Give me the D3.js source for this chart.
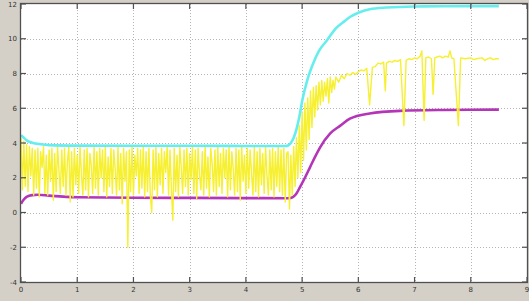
<!DOCTYPE html>
<html><head><meta charset="utf-8">
<script src="https://cdn.jsdelivr.net/npm/d3@7"></script>
<style>html,body{margin:0;padding:0;background:#d4d0c8;}svg{display:block;}</style>
</head><body>
<svg id="c" width="529" height="301"></svg>
<script>
const xTicks = [0,1,2,3,4,5,6,7,8,9];
const yTicks = [-4,-2,0,2,4,6,8,10,12];

const cyanX = [0,0.05,0.1,0.2,0.35,0.5,1,2,3,4,4.7,4.75,4.8,4.85,4.9,4.95,5.0,5.1,5.2,5.3,5.44,5.6,5.75,5.85,6.0,6.2,6.5,7.0,7.5,8.5];
const cyanY = [4.45,4.3,4.15,4.02,3.93,3.88,3.85,3.84,3.84,3.83,3.83,3.86,4.0,4.3,4.8,5.5,6.4,7.7,8.6,9.3,9.9,10.6,11.0,11.25,11.5,11.7,11.8,11.86,11.87,11.88];

const magX = [0,0.05,0.1,0.2,0.3,0.5,1,2,3,4,4.7,4.78,4.9,4.96,5.05,5.14,5.23,5.32,5.5,5.68,5.85,6.2,6.74,7.5,8.5];
const magY = [0.5,0.75,0.9,1.0,1.02,0.97,0.88,0.85,0.84,0.83,0.82,0.83,1.1,1.45,2.0,2.6,3.2,3.75,4.55,5.0,5.4,5.7,5.85,5.9,5.92];

// dense noisy part of yellow, sampled every 0.025 from 0
const yellowStep = 0.025;
const yellowDenseY = [
4.3,1.3,4.1,1.5,3.9,1.2,3.8,2.1,3.7,1.0,3.6,1.4,3.7,0.9,3.5,2.6,3.8,1.1,3.3,1.0,
3.6,1.8,3.7,0.7,3.4,1.2,3.8,2.4,1.1,3.6,1.5,3.7,1.0,2.9,3.8,0.6,3.5,0.9,3.7,1.6,
3.3,1.1,3.8,2.2,1.0,3.6,1.3,3.7,0.9,3.4,2.7,1.1,3.8,1.4,3.5,1.0,3.7,2.0,3.6,1.2,
3.8,0.9,3.2,1.5,3.7,1.1,3.6,2.5,1.0,3.8,1.3,3.4,0.5,3.7,1.8,3.5,-2.0,3.6,1.2,3.8,
1.0,3.3,2.1,3.7,1.1,3.6,1.4,3.8,0.9,3.5,1.2,3.7,1.0,0.0,3.6,1.3,3.8,0.9,3.4,1.6,
3.7,1.1,3.5,2.3,3.8,1.0,3.6,1.4,-0.45,3.7,1.2,3.3,0.9,3.8,2.6,1.1,3.6,1.5,3.7,1.0,
3.4,1.9,3.8,1.1,3.6,0.8,3.7,2.2,1.3,3.5,1.0,3.8,1.4,3.2,0.9,3.7,2.8,1.2,3.6,1.0,
3.8,1.5,3.4,1.1,3.7,2.0,3.6,0.9,3.8,1.3,3.5,2.5,1.0,3.7,1.2,3.6,0.7,3.8,1.8,3.3,
1.1,3.7,1.4,3.6,2.3,1.0,3.8,1.2,3.5,0.9,3.7,1.6,3.4,1.1,3.8,2.1,1.0,3.6,1.3,3.7,
0.9,3.5,1.5,3.8,1.2,3.6,1.0,3.7,0.6,3.4];

const yellowRiseX = [4.75,4.775,4.8,4.825,4.85,4.875,4.9,4.925,4.95,4.975,5.0,5.025,5.05,5.075,5.1,5.125,5.15,5.175,5.2,5.225,5.25,5.275,5.3,5.325,5.35,5.375,5.4,5.425,5.45,5.475,5.5,5.525,5.55,5.575,5.6,5.65,5.7,5.75,5.8,5.85,5.9,5.95,6.0,6.05,6.1,6.15,6.2,6.25,6.3,6.35,6.4,6.45,6.48,6.5,6.55,6.6,6.65,6.7,6.75,6.81,6.85,6.9,6.95,7.0,7.05,7.1,7.13,7.17,7.2,7.25,7.3,7.33,7.36,7.4,7.45,7.5,7.55,7.6,7.63,7.66,7.7,7.78,7.82,7.9,8.0,8.05,8.1,8.2,8.25,8.3,8.35,8.4,8.45,8.5];
const yellowRiseY = [3.5,0.2,3.3,1.0,3.8,1.5,4.3,2.0,5.0,2.3,5.8,3.0,6.3,3.6,6.6,4.2,7.0,4.9,7.2,5.5,7.3,5.9,7.5,6.2,7.6,6.4,7.5,6.7,7.7,6.3,7.8,6.9,7.6,7.1,7.8,7.5,7.9,7.7,8.0,7.9,8.05,7.95,8.1,8.2,8.15,8.3,6.2,8.35,8.4,8.6,8.55,8.65,7.0,8.6,8.7,8.65,8.75,8.7,8.8,5.0,8.75,8.85,8.8,8.9,8.85,9.0,9.3,5.3,8.9,8.95,8.85,6.8,8.9,8.95,9.0,8.9,9.0,8.95,9.3,8.9,8.85,5.0,8.9,8.85,8.9,8.8,8.85,8.9,8.75,8.85,8.9,8.8,8.85,8.85];

const svg = d3.select("#c");
const L = 21, R = 527, T = 4, B = 282;
const x = d3.scaleLinear().domain([0,9]).range([L,R]);
const y = d3.scaleLinear().domain([-4,12]).range([B,T]);

svg.append("rect").attr("x",L).attr("y",T).attr("width",R-L).attr("height",B-T).attr("fill","#fff");

// grid
const g = svg.append("g");
g.selectAll(".gx").data(xTicks.slice(1,-1)).enter().append("line")
 .attr("x1",d=>Math.round(x(d))+0.5).attr("x2",d=>Math.round(x(d))+0.5).attr("y1",T).attr("y2",B)
 .attr("stroke","#b4b4b4").attr("stroke-width",1).attr("stroke-dasharray","1,2");
g.selectAll(".gy").data(yTicks.slice(1,-1)).enter().append("line")
 .attr("y1",d=>Math.round(y(d))+0.5).attr("y2",d=>Math.round(y(d))+0.5).attr("x1",L).attr("x2",R)
 .attr("stroke","#b4b4b4").attr("stroke-width",1).attr("stroke-dasharray","1,2");

const clip = svg.append("clipPath").attr("id","pc").append("rect")
 .attr("x",L).attr("y",T).attr("width",R-L).attr("height",B-T);
const plot = svg.append("g").attr("clip-path","url(#pc)");

const line = d3.line().x(d=>x(d[0])).y(d=>y(d[1]));
const smooth = d3.line().x(d=>x(d[0])).y(d=>y(d[1])).curve(d3.curveMonotoneX);

const magData = magX.map((v,i)=>[v,magY[i]]);
const cyanData = cyanX.map((v,i)=>[v,cyanY[i]]);
const yellowData = yellowDenseY.map((v,i)=>[i*yellowStep,v]).concat(yellowRiseX.map((v,i)=>[v,yellowRiseY[i]]));

plot.append("path").attr("d",smooth(magData)).attr("fill","none").attr("stroke","#b535b8").attr("stroke-width",2.6);
plot.append("path").attr("d",line(yellowData)).attr("fill","none").attr("stroke","#f6f030").attr("stroke-width",1.4).attr("stroke-linejoin","round");
plot.append("path").attr("d",smooth(cyanData)).attr("fill","none").attr("stroke","#66eeee").attr("stroke-width",2.6);

// box
svg.append("rect").attr("x",L-0.5).attr("y",T-0.5).attr("width",R-L+1).attr("height",B-T+1)
 .attr("fill","none").attr("stroke","#505050").attr("stroke-width",1.3);

// ticks (inside, all four sides)
const tk = svg.append("g").attr("stroke","#505050").attr("stroke-width",1.2);
xTicks.forEach(d=>{
  tk.append("line").attr("x1",x(d)).attr("x2",x(d)).attr("y1",B).attr("y2",B-5);
  tk.append("line").attr("x1",x(d)).attr("x2",x(d)).attr("y1",T).attr("y2",T+5);
});
yTicks.forEach(d=>{
  tk.append("line").attr("y1",y(d)).attr("y2",y(d)).attr("x1",L).attr("x2",L+5);
  tk.append("line").attr("y1",y(d)).attr("y2",y(d)).attr("x1",R).attr("x2",R-5);
});

const lab = svg.append("g").attr("font-family","DejaVu Sans, sans-serif").attr("font-size",7).attr("fill","#333");
xTicks.forEach(d=>{
  lab.append("text").attr("x",x(d)).attr("y",B+10).attr("text-anchor","middle").text(d);
});
yTicks.forEach(d=>{
  lab.append("text").attr("x",L-4).attr("y",y(d)+2.5).attr("text-anchor","end").text(d);
});
</script>
</body></html>
